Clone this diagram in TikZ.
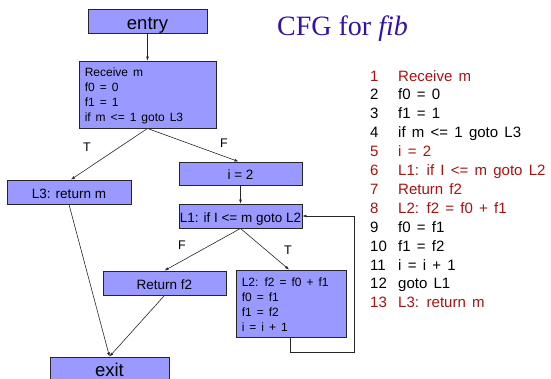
\documentclass[tikz,border=0pt]{standalone}
\usepackage{fontspec}
\setmainfont{Liberation Sans}
\newfontfamily\widefont[WordSpace=1.5]{Liberation Sans}
\newfontfamily\titlefont{Liberation Serif}
\usetikzlibrary{arrows.meta,calc}
\definecolor{boxfill}{HTML}{9999FF}
\definecolor{titleblue}{HTML}{3311AA}
\definecolor{listred}{HTML}{AA1111}
\tikzset{
  blk/.style={draw=black!85, line width=0.9pt, fill=boxfill, inner sep=0pt,
    font=\fontsize{13.5}{15}\selectfont, text height=12pt, text depth=0pt},
  bigblk/.style={blk, font=\fontsize{18.5}{20}\selectfont, text height=17pt, text depth=1pt},
  boxtxt/.style={anchor=north west, inner sep=0pt, align=left,
    font=\widefont\fontsize{12}{15.1}\selectfont},
  edge/.style={draw=black!85, line width=0.6pt, -{Latex[length=4pt,width=3pt]}},
  lbl/.style={font=\fontsize{12.5}{14}\selectfont, inner sep=0pt},
  lnum/.style={font=\widefont\fontsize{15}{18}\selectfont, anchor=base west, inner sep=0pt},
}
\begin{document}
\begin{tikzpicture}[x=1pt,y=-1pt]
\useasboundingbox (0,0) rectangle (551,378);
\clip (0,0) rectangle (551,378);
% blocks
\node[bigblk, minimum width=119pt, minimum height=24pt] (entry) at (147.5,21) {entry};
\node[blk, minimum width=137pt, minimum height=67pt] (recv) at (147.5,94.5) {};
\node[boxtxt] (recvtxt) at ($(recv.north west)+(6,7)$)
  {Receive m\\f0 = 0\\f1 = 1\\if m <= 1 goto L3};
\node[blk, minimum width=123pt, minimum height=23pt] (i2) at (240.5,173.5) {i = 2};
\node[blk, minimum width=124pt, minimum height=24pt] (L3) at (69,192) {L3: return m};
\node[blk, minimum width=123pt, minimum height=24pt] (L1) at (240.5,216) {L1: if I <= m goto L2};
\node[blk, minimum width=123pt, minimum height=24pt] (ret) at (164.5,283) {Return f2};
\node[blk, minimum width=110pt, minimum height=67pt] (L2) at (291,303.5) {};
\node[boxtxt] (L2txt) at ($(L2.north west)+(6,8)$)
  {L2: f2 = f0 + f1\\f0 = f1\\f1 = f2\\i = i + 1};
\node[bigblk, minimum width=119pt, minimum height=24pt, text height=15pt, text depth=1pt] (exit) at (109.5,369) {exit};
% edges
\draw[edge] (entry.south) -- (recv.north);
\draw[edge] (recv.south) -- ($(L3.north)+(2,0)$);
\draw[edge] (recv.south) -- ($(i2.north)+(-2,0)$);
\draw[edge] (i2.south) -- (L1.north);
\draw[edge] (L1.south) -- (ret.north);
\draw[edge] (L1.south) -- ($(L2.north)+(-2,0)$);
\draw[edge] (L3.south) -- (exit.north);
\draw[edge] (ret.south) -- (exit.north);
\coordinate (lp) at (354,352);
\draw[edge] ($(L2.south)+(-1,0)$) |- (lp) |- (L1.east);
% edge labels
\node[lbl] (t1) at (87,147) {T};
\node[lbl] (f1) at (224,143) {F};
\node[lbl] (f2) at (182,245) {F};
\node[lbl] (t2) at (288,250) {T};
% title
\node[font=\titlefont\fontsize{28}{30}\selectfont, text=titleblue, anchor=base west, inner sep=0pt] (title) at (277,35) {CFG for \textit{fib}};
% listing
\foreach \k/\txt/\col in {1/Receive m/listred, 2/f0 = 0/black, 3/f1 = 1/black, 4/if m <= 1 goto L3/black,
  5/i = 2/listred, 6/L1: if I <= m goto L2/listred, 7/Return f2/listred, 8/L2: f2 = f0 + f1/listred,
  9/f0 = f1/black, 10/f1 = f2/black, 11/i = i + 1/black, 12/goto L1/black, 13/L3: return m/listred}{
  \node[lnum, text=\col] (n\k) at (370,{81+18.9*(\k-1)}) {\k};
  \node[lnum, text=\col] (s\k) at (398,{81+18.9*(\k-1)}) {\txt};
}
\end{tikzpicture}
\end{document}
